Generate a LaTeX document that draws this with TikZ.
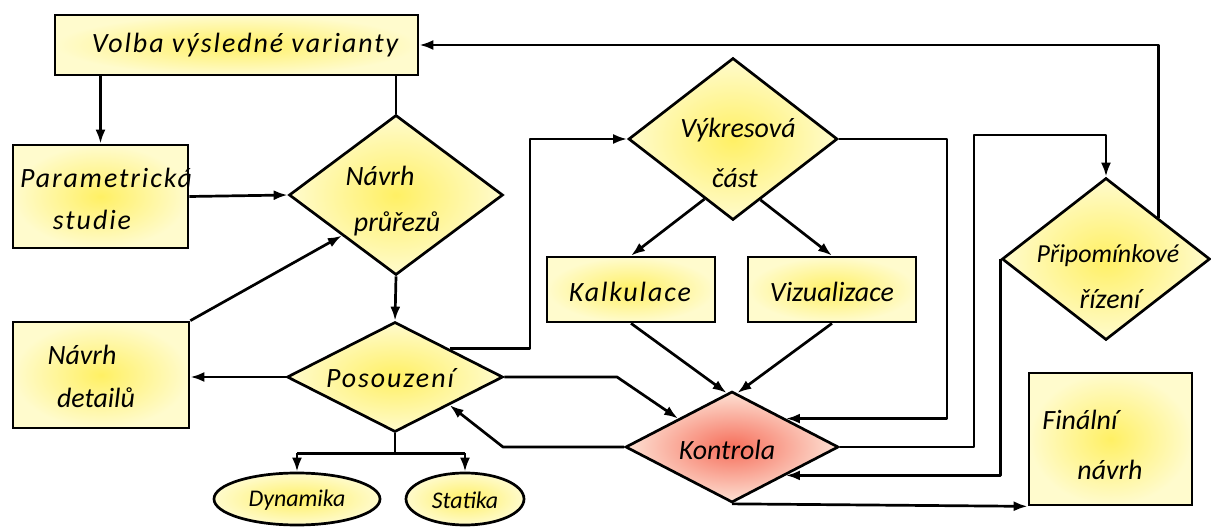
\documentclass[tikz,border=0pt]{standalone}
\usepackage{fontspec}
\setmainfont{Carlito}
\usetikzlibrary{shapes.geometric,arrows.meta,calc}
\definecolor{yelC}{RGB}{255,240,100}
\definecolor{yelO}{RGB}{255,251,205}
\definecolor{redC}{RGB}{246,110,90}
\definecolor{redO}{RGB}{253,225,212}
\begin{document}
\begin{tikzpicture}[x=1bp,y=-1bp,
  base/.style={draw=black, line width=2.7bp, inner sep=0pt},
  yel/.style={base, inner color=yelC, outer color=yelO},
  rbox/.style={yel, rectangle},
  dbox/.style={yel, diamond},
  ebox/.style={yel, ellipse},
  rdbox/.style={base, diamond, inner color=redC, outer color=redO},
  lbl/.style={font=\fontsize{28}{32}\selectfont\itshape, inner sep=0pt},
  widel/.style={font=\fontsize{28}{32}\selectfont\itshape\addfontfeature{LetterSpace=7}, inner sep=0pt},
  midl/.style={font=\fontsize{26}{30}\selectfont\itshape, inner sep=0pt},
  slbl/.style={font=\fontsize{24}{28}\selectfont\itshape, inner sep=0pt},
  conn/.style={line width=2.7bp, line join=round},
  arr/.style={conn, -{Latex[length=14bp,width=10bp]}}
]
\fill[white] (0,0) rectangle (1211,528);
\useasboundingbox (0,0) rectangle (1211,528);

% shapes
\node[rbox, minimum width=363bp, minimum height=60bp] (volba) at (236.5,45) {};
\node[rbox, minimum width=175bp, minimum height=103bp] (param) at (100.5,196.5) {};
\node[dbox, minimum width=214bp, minimum height=160bp] (prur) at (396,195) {};
\node[rbox, minimum width=176bp, minimum height=106bp] (detail) at (101,375) {};
\node[dbox, minimum width=216bp, minimum height=110bp] (posou) at (395,377) {};
\node[ebox, minimum width=166bp, minimum height=52bp] (dyn) at (297,499) {};
\node[ebox, minimum width=118bp, minimum height=52bp] (stat) at (465,499) {};
\node[dbox, minimum width=209bp, minimum height=162bp] (vyk) at (733,139) {};
\node[rbox, minimum width=168bp, minimum height=65bp] (kalk) at (631,289.5) {};
\node[rbox, minimum width=168bp, minimum height=65bp] (viz) at (832,289.5) {};
\node[rdbox, minimum width=213bp, minimum height=111bp] (kontr) at (732,447) {};
\node[dbox, minimum width=208bp, minimum height=162bp] (prip) at (1106,259) {};
\node[rbox, minimum width=163bp, minimum height=132bp] (final) at (1110.5,439) {};

% texts
\node[widel] (tvolba) at (245,45) {Volba výsledné varianty};
\node[widel] (tparam1) at (106,178) {Parametrická};
\node[widel] (tparam2) at (92,220) {studie};
\node[lbl] (tprur1) at (380,176) {Návrh};
\node[lbl] (tprur2) at (397,224) {průřezů};
\node[lbl] (tdet1) at (82,355) {Návrh};
\node[lbl] (tdet2) at (96,398) {detailů};
\node[widel] (tposou) at (390,378) {Posouzení};
\node[slbl] (tdyn) at (297,500) {Dynamika};
\node[slbl] (tstat) at (465,500) {Statika};
\node[lbl] (tvyk1) at (738,130) {Výkresová};
\node[lbl] (tvyk2) at (735,178) {část};
\node[widel] (tkalk) at (630,292) {Kalkulace};
\node[lbl] (tviz) at (832,292) {Vizualizace};
\node[midl] (tprip1) at (1108,256) {Připomínkové};
\node[lbl] (tprip2) at (1110,299) {řízení};
\node[lbl] (tkontr) at (727,450) {Kontrola};
\node[lbl] (tfin1) at (1080,420) {Finální};
\node[lbl] (tfin2) at (1110,470) {návrh};

% helper coordinates
\coordinate (c1) at (530,139);
\coordinate (c2) at (617,377);
\coordinate (c3) at (503,447);
\coordinate (c4) at (947,139);
\coordinate (c5) at (974,135);
\coordinate (br) at ($(posou.south)+(0,20)$);

% connectors
\draw[arr] (param.north |- volba.south) -- (param.north);
\draw[conn] (prur.north |- volba.south) -- (prur.north);
\draw[arr] (param.east) -- (prur.west);
\draw[arr] (detail.north east) -- (prur.south west);
\draw[arr] (prur.south) -- (posou.north);
\draw[arr] (posou.west) -- (detail.east |- posou.west);
\draw[conn] (posou.south) -- (br);
\draw[conn] (dyn.north |- br) -- (stat.north |- br);
\draw[arr] (dyn.north |- br) -- (dyn.north);
\draw[arr] (stat.north |- br) -- (stat.north);
\draw[arr] (posou.north east) -| (c1) -- (vyk.west);
\draw[arr] ($(vyk.west)!0.73!(vyk.south)$) -- (kalk.north);
\draw[arr] ($(vyk.south)!0.26!(vyk.east)$) -- (viz.north);
\draw[arr] (kalk.south) -- ($(kontr.north)!0.05!(kontr.west)$);
\draw[arr] (viz.south) -- ($(kontr.north)!0.05!(kontr.east)$);
\draw[arr] (posou.east) -- (c2) -- (kontr.north west);
\draw[arr] (kontr.west) -- (c3) -- (posou.south east);
\draw[arr] (vyk.east) -- (c4) |- (kontr.north east);
\draw[arr] (kontr.east) -| (c5) -| (prip.north);
\draw[arr] (prip.west) |- (kontr.south east);
\draw[arr] (kontr.south) -- (final.south west);
\draw[arr] (prip.north east) |- (volba.east);
\end{tikzpicture}
\end{document}
